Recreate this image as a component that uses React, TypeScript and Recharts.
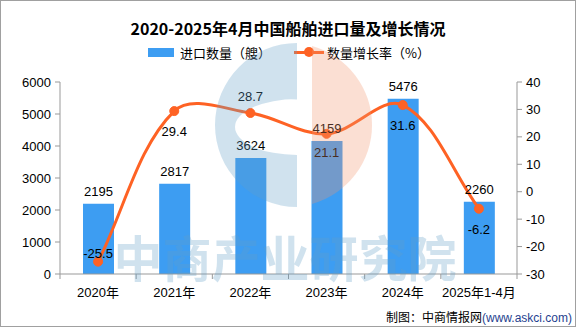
import {
  Bar,
  ComposedChart,
  LabelList,
  Line,
  XAxis,
  YAxis,
} from "recharts";

const categories = ["2020年", "2021年", "2022年", "2023年", "2024年", "2025年1-4月"];
const importCounts = [2195, 2817, 3624, 4159, 5476, 2260];
const growthRates = [-25.5, 29.4, 28.7, 21.1, 31.6, -6.2];
const leftTicks = [0, 1000, 2000, 3000, 4000, 5000, 6000];
const rightTicks = [-30, -20, -10, 0, 10, 20, 30, 40];

// where each growth label sits relative to its dot (px, + is down)
const growthLabelDy = [-8, 20, -16, 19, 20, 21];

const BAR_COLOR = "#3d9df2";
const LINE_COLOR = "#fe6224";
const FONT = '"Liberation Sans", "Noto Sans CJK SC", sans-serif';
const CJK = '"Noto Sans CJK SC", sans-serif';
const SMOOTH = 0.35;

const data = categories.map((cat, i) => ({
  cat,
  count: importCounts[i],
  rate: growthRates[i],
}));

// distance-weighted bezier smoothing, close to the original's smoothed line
function smoothCurve(context: any) {
  let pts: number[][] = [];
  const dist = (a: number[], b: number[]) => Math.hypot(a[0] - b[0], a[1] - b[1]);
  return {
    areaStart() {},
    areaEnd() {},
    lineStart() {
      pts = [];
    },
    point(x: number, y: number) {
      pts.push([+x, +y]);
    },
    lineEnd() {
      if (!pts.length) return;
      const n = pts.length;
      const before: number[][] = [];
      const after: number[][] = [];
      for (let i = 0; i < n; i++) {
        const p = pts[i];
        const prev = pts[i - 1] ?? p;
        const next = pts[i + 1] ?? p;
        const vx = next[0] - prev[0];
        const vy = next[1] - prev[1];
        const d0 = dist(prev, p);
        const d1 = dist(p, next);
        const sum = d0 + d1 || 1;
        before.push([p[0] - vx * SMOOTH * (d0 / sum), p[1] - vy * SMOOTH * (d0 / sum)]);
        after.push([p[0] + vx * SMOOTH * (d1 / sum), p[1] + vy * SMOOTH * (d1 / sum)]);
      }
      context.moveTo(pts[0][0], pts[0][1]);
      for (let i = 0; i < n - 1; i++) {
        context.bezierCurveTo(
          after[i][0],
          after[i][1],
          before[i + 1][0],
          before[i + 1][1],
          pts[i + 1][0],
          pts[i + 1][1]
        );
      }
    },
  };
}

function GrowthLabel(props: any) {
  const { x, y, value, index } = props;
  return (
    <text
      x={x}
      y={y + (growthLabelDy[index] ?? -12)}
      textAnchor="middle"
      dominantBaseline="central"
      fontSize={13}
      fontFamily={FONT}
      fill="#000"
    >
      {value}
    </text>
  );
}

function CategoryTick(props: any) {
  const { x, y, payload, index } = props;
  const half = 457 / 12;
  return (
    <g>
      <line x1={x - half} y1={y - 8} x2={x - half} y2={y - 3} stroke="#999" />
      {index === categories.length - 1 && (
        <line x1={x + half} y1={y - 8} x2={x + half} y2={y - 3} stroke="#999" />
      )}
      <text
        x={x}
        y={y + 10}
        textAnchor="middle"
        dominantBaseline="central"
        fontSize={13}
        fontFamily={FONT}
        fill="#000"
      >
        {payload.value}
      </text>
    </g>
  );
}

function Watermark() {
  return (
    <svg
      width={576}
      height={327}
      style={{ position: "absolute", left: 0, top: 0, pointerEvents: "none" }}
    >
      <path
        d="M297 43 A82 82 0 0 0 297 207 Z M297 99 A62 28 0 0 0 297 155 Z"
        fill="rgba(100,160,200,0.3)"
        fillRule="evenodd"
      />
      <path d="M312 46 A82 82 0 0 1 312 204 Z" fill="rgba(242,150,110,0.3)" />
      <text
        x={285}
        y={277}
        textAnchor="middle"
        fontSize={49}
        fontWeight="bold"
        fontFamily={CJK}
        fill="rgba(100,160,200,0.3)"
      >
        中商产业研究院
      </text>
    </svg>
  );
}

export default function App() {
  return (
    <div style={{ position: "relative", width: 576, height: 327, background: "#fff", fontFamily: CJK }}>
      <style>{`body{margin:0}`}</style>
      <div
        style={{
          position: "absolute",
          left: 0,
          right: 0,
          top: 17,
          textAlign: "center",
          fontSize: 16,
          fontWeight: "bold",
          lineHeight: "22px",
        }}
      >
        2020-2025年4月中国船舶进口量及增长情况
      </div>
      <div style={{ position: "absolute", left: 148, top: 48, width: 26, height: 9, background: BAR_COLOR }} />
      <div style={{ position: "absolute", left: 180, top: 44, fontSize: 13, lineHeight: "18px" }}>
        进口数量（艘）
      </div>
      <div style={{ position: "absolute", left: 294, top: 51, width: 30, height: 3, background: LINE_COLOR }} />
      <div
        style={{
          position: "absolute",
          left: 304,
          top: 47,
          width: 10,
          height: 10,
          borderRadius: 5,
          background: LINE_COLOR,
        }}
      />
      <div style={{ position: "absolute", left: 327, top: 44, fontSize: 13, lineHeight: "18px" }}>
        数量增长率（%）
      </div>

      <ComposedChart
        width={576}
        height={327}
        data={data}
        margin={{ top: 82, right: 0, bottom: 0, left: 0 }}
        style={{ position: "absolute", left: 0, top: 0 }}
      >
        <XAxis
          dataKey="cat"
          height={53}
          axisLine={{ stroke: "#999" }}
          tickLine={false}
          tick={<CategoryTick />}
          interval={0}
        />
        <YAxis
          yAxisId="left"
          width={60}
          domain={[0, 6000]}
          ticks={leftTicks}
          axisLine={{ stroke: "#999" }}
          tickLine={{ stroke: "#999" }}
          tickSize={5}
          tickMargin={4}
          tick={{ fontSize: 13, fill: "#000", fontFamily: FONT }}
        />
        <YAxis
          yAxisId="right"
          orientation="right"
          width={59}
          domain={[-30, 40]}
          ticks={rightTicks}
          axisLine={{ stroke: "#999" }}
          tickLine={{ stroke: "#999" }}
          tickSize={5}
          tickMargin={4}
          tick={{ fontSize: 13, fill: "#000", fontFamily: FONT }}
        />
        <Bar yAxisId="left" dataKey="count" fill={BAR_COLOR} barSize={31} isAnimationActive={false}>
          <LabelList
            dataKey="count"
            position="top"
            offset={8}
            fontSize={13}
            fill="#000"
            fontFamily={FONT}
          />
        </Bar>
        <Line
          yAxisId="right"
          dataKey="rate"
          type={smoothCurve as any}
          stroke={LINE_COLOR}
          strokeWidth={3}
          dot={{ r: 4.5, fill: LINE_COLOR, stroke: LINE_COLOR, strokeWidth: 1 }}
          isAnimationActive={false}
        >
          <LabelList dataKey="rate" content={<GrowthLabel />} />
        </Line>
      </ComposedChart>

      <Watermark />

      <div
        style={{
          position: "absolute",
          left: 386,
          top: 308,
          fontSize: 12,
          lineHeight: "18px",
          whiteSpace: "nowrap",
        }}
      >
        制图：中商情报网<span style={{ color: "#1f3f8f", fontFamily: FONT, fontSize: 12 }}>(www.askci.com)</span>
      </div>
      <div
        style={{
          position: "absolute",
          left: 0,
          top: 0,
          width: 576,
          height: 327,
          boxSizing: "border-box",
          border: "1px solid #a0a0a0",
          pointerEvents: "none",
        }}
      />
    </div>
  );
}
